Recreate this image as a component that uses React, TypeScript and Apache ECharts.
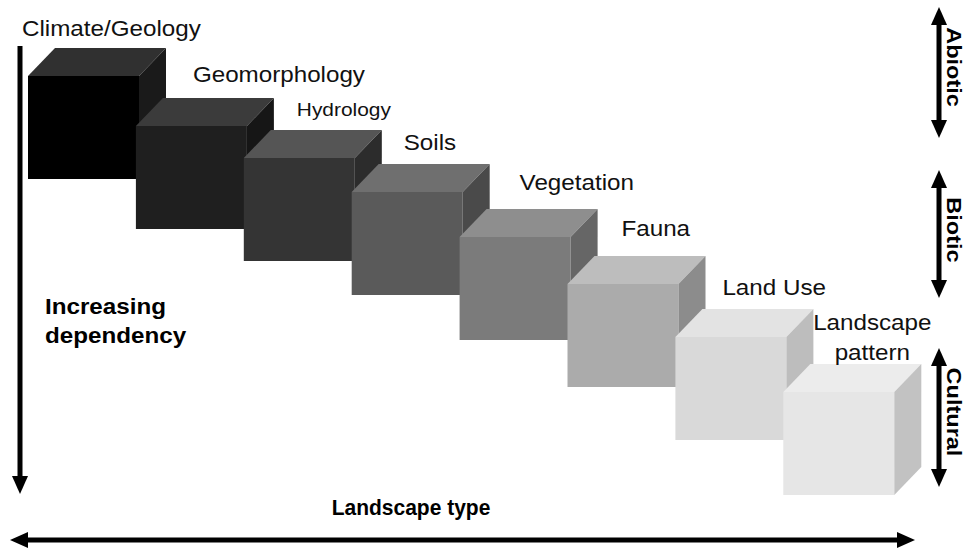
import React, { useEffect, useRef } from "react";
import * as echarts from "echarts";

// ---- Data ----
const LAYERS = [
  "Climate/Geology",
  "Geomorphology",
  "Hydrology",
  "Soils",
  "Vegetation",
  "Fauna",
  "Land Use",
  "Landscape\npattern",
];
const LAYER_INDEX = [0, 1, 2, 3, 4, 5, 6, 7];
// Depth of each layer along the (downward) "Increasing dependency" axis
const DEPENDENCY = [76, 126, 158, 192, 237, 284, 337, 392];
const GROUPS = ["Abiotic", "Biotic", "Cultural"];
const Y_AXIS_TITLE = ["Increasing", "dependency"];
const X_AXIS_TITLE = "Landscape type";

// ---- Styles ----
const FRONT = ["#000000", "#1f1f1f", "#343434", "#5a5a5a", "#7b7b7b", "#ababab", "#d9d9d9", "#e6e6e6"];
const TOP = ["#303030", "#3b3b3b", "#555555", "#6f6f6f", "#8e8e8e", "#bdbdbd", "#e3e3e3", "#ececec"];
const SIDE = ["#1a1a1a", "#161616", "#2c2c2c", "#4a4a4a", "#666666", "#8c8c8c", "#bdbdbd", "#c2c2c2"];
const LABEL_OFFSET = [
  [-6, -48],
  [57, -52],
  [53, -49],
  [52, -50],
  [60, -55],
  [54, -56],
  [47, -50],
  [89, -55],
];
const LABEL_SIZE = [22, 22, 19, 22, 22, 22, 22, 22];
const FONT = "'Liberation Sans', Arial, sans-serif";

function vArrow(cx: number, y1: number, y2: number, double: boolean) {
  const hw = 8, hl = 18, sw = 2.5;
  const els: any[] = [];
  const top = double ? y1 + hl - 1 : y1;
  const bot = y2 - hl + 1;
  els.push({ type: "rect", shape: { x: cx - sw, y: top, width: sw * 2, height: bot - top }, style: { fill: "#000" } });
  els.push({ type: "polygon", shape: { points: [[cx - hw, y2 - hl], [cx + hw, y2 - hl], [cx, y2]] }, style: { fill: "#000" } });
  if (double) {
    els.push({ type: "polygon", shape: { points: [[cx - hw, y1 + hl], [cx + hw, y1 + hl], [cx, y1]] }, style: { fill: "#000" } });
  }
  return els;
}

function hArrow(cy: number, x1: number, x2: number) {
  const hw = 8, hl = 18, sw = 2.5;
  return [
    { type: "rect", shape: { x: x1 + hl - 1, y: cy - sw, width: x2 - x1 - 2 * hl + 2, height: sw * 2 }, style: { fill: "#000" } },
    { type: "polygon", shape: { points: [[x1 + hl, cy - hw], [x1 + hl, cy + hw], [x1, cy]] }, style: { fill: "#000" } },
    { type: "polygon", shape: { points: [[x2 - hl, cy - hw], [x2 - hl, cy + hw], [x2, cy]] }, style: { fill: "#000" } },
  ];
}

export default function App() {
  const ref = useRef<HTMLDivElement>(null);

  useEffect(() => {
    if (!ref.current) return;
    const chart = echarts.init(ref.current, null, { renderer: "svg" });

    const groupPos = [
      { y1: 7, y2: 138, ty: 67 },
      { y1: 170, y2: 298, ty: 230 },
      { y1: 348, y2: 487, ty: 412 },
    ];

    const graphic: any[] = [];
    // left vertical arrow
    graphic.push(...vArrow(20, 46, 494, false));
    // bottom double arrow
    graphic.push(...hArrow(540, 10, 915));
    // right group arrows and labels
    GROUPS.forEach((g, i) => {
      const p = groupPos[i];
      graphic.push(...vArrow(939, p.y1, p.y2, true));
      graphic.push({
        type: "text",
        x: 954.5,
        y: p.ty,
        rotation: -Math.PI / 2,
        scaleX: 1.12,
        style: {
          text: g,
          fontFamily: FONT,
          fontWeight: "bold",
          fontSize: 21,
          fill: "#000",
          align: "center",
          verticalAlign: "middle",
        },
      });
    });
    // y-axis title
    Y_AXIS_TITLE.forEach((t, i) => {
      graphic.push({
        type: "text",
        x: 45,
        y: 306 + i * 29,
        scaleX: 1.1,
        style: {
          text: t,
          fontFamily: FONT,
          fontWeight: "bold",
          fontSize: 22,
          fill: "#000",
          align: "left",
          verticalAlign: "middle",
        },
      });
    });
    // x-axis title
    graphic.push({
      type: "text",
      x: 411,
      y: 508,
      scaleX: 0.955,
      style: {
        text: X_AXIS_TITLE,
        fontFamily: FONT,
        fontWeight: "bold",
        fontSize: 22,
        fill: "#000",
        align: "center",
        verticalAlign: "middle",
      },
    });

    const W = 111, H = 103, DX = 27, DY = 28;

    chart.setOption({
      animation: false,
      backgroundColor: "#ffffff",
      grid: { left: 28, right: 74.8, top: 0, bottom: 0 },
      xAxis: { type: "value", min: 0, max: 8, show: false },
      yAxis: { type: "value", min: 0, max: 550, inverse: true, show: false },
      graphic,
      series: [
        {
          type: "custom",
          clip: false,
          data: LAYER_INDEX.map((i) => [i, DEPENDENCY[i]]),
          renderItem: (params: any, api: any) => {
            const idx = params.dataIndex;
            const p = api.coord([api.value(0), api.value(1)]);
            const L = p[0], T = p[1];
            const off = LABEL_OFFSET[idx];
            const isLast = idx === LAYERS.length - 1;
            return {
              type: "group",
              children: [
                {
                  type: "rect",
                  shape: { x: L, y: T, width: W, height: H },
                  style: { fill: FRONT[idx] },
                },
                {
                  type: "polygon",
                  shape: { points: [[L, T], [L + DX, T - DY], [L + W + DX, T - DY], [L + W, T]] },
                  style: { fill: TOP[idx] },
                },
                {
                  type: "polygon",
                  shape: { points: [[L + W, T], [L + W + DX, T - DY], [L + W + DX, T + H - DY], [L + W, T + H]] },
                  style: { fill: SIDE[idx] },
                },
                {
                  type: "text",
                  x: L + off[0],
                  y: T + off[1],
                  scaleX: 1.1,
                  style: {
                    text: LAYERS[idx],
                    fontFamily: FONT,
                    fontSize: LABEL_SIZE[idx],
                    lineHeight: 30,
                    fill: "#111",
                    align: isLast ? "center" : "left",
                    verticalAlign: "middle",
                  },
                },
              ],
            };
          },
        },
      ],
    });

    return () => chart.dispose();
  }, []);

  return (
    <div
      ref={ref}
      style={{ position: "fixed", left: 0, top: 0, width: 966, height: 550, background: "#fff" }}
    />
  );
}
